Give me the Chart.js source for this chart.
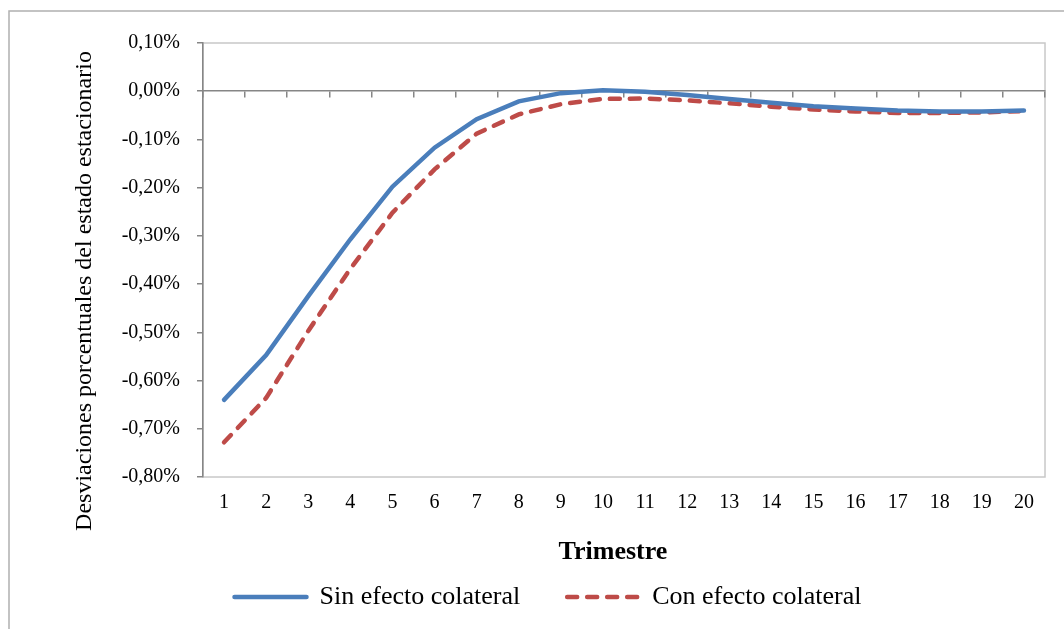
<!DOCTYPE html>
<html lang="es">
<head>
<meta charset="UTF-8">
<title>Trimestre</title>
<script src="https://cdn.jsdelivr.net/npm/chart.js"></script>
<style>
    body { margin: 0; background: #ffffff; }
    #wrap { position: relative; width: 1064px; height: 629px; }
</style>
</head>
<body>
<div id="wrap">
    <canvas id="myChart" width="1064" height="629"></canvas>
</div>
<script>
    // datos (desviaciones en %)
    const trimestres = ['1','2','3','4','5','6','7','8','9','10','11','12','13','14','15','16','17','18','19','20'];
    const sinEfecto = [-0.64, -0.547, -0.425, -0.307, -0.198, -0.117, -0.058, -0.021, -0.004, 0.002,
                       -0.001, -0.008, -0.016, -0.024, -0.031, -0.036, -0.040, -0.042, -0.042, -0.040];
    const conEfecto = [-0.728, -0.636, -0.497, -0.368, -0.252, -0.162, -0.088, -0.048, -0.027, -0.016,
                       -0.015, -0.019, -0.025, -0.032, -0.038, -0.042, -0.045, -0.045, -0.044, -0.041];
    const yTicks = { min: -0.8, max: 0.1, step: 0.1 };
    const yTitle = 'Desviaciones porcentuales del estado estacionario';
    const xTitle = 'Trimestre';

    Chart.defaults.font.family = '"Liberation Serif", "Times New Roman", serif';
    Chart.defaults.color = '#000000';

    const axisGray = '#868686';

    // marco exterior, borde del area de trazado y titulos de los ejes
    const framePlugin = {
        id: 'frame',
        beforeDraw(chart) {
            const c = chart.ctx, a = chart.chartArea;
            c.save();
            c.strokeStyle = '#b0b0b0';
            c.lineWidth = 1.5;
            c.strokeRect(9, 11, 1200, 800);
            c.strokeStyle = '#c8c8c8';
            c.lineWidth = 1.5;
            c.strokeRect(a.left, a.top, a.right - a.left, a.bottom - a.top);
            c.restore();
        },
        afterDraw(chart) {
            const c = chart.ctx;
            c.save();
            c.fillStyle = '#000';
            c.textAlign = 'center';
            c.textBaseline = 'middle';
            c.font = 'bold 26px "Liberation Serif"';
            c.fillText(xTitle, 613, 552);
            c.translate(85, 291);
            c.rotate(-Math.PI / 2);
            c.font = '24px "Liberation Serif"';
            c.fillText(yTitle, 0, 0);
            c.restore();
        }
    };

    const ctx = document.getElementById('myChart').getContext('2d');
    const myChart = new Chart(ctx, {
        type: 'line',
        data: {
            labels: trimestres,
            datasets: [{
                label: 'Sin efecto colateral',
                data: sinEfecto,
                borderColor: '#4a7ebb',
                backgroundColor: '#4a7ebb',
                borderWidth: 4.5,
                borderCapStyle: 'round',
                pointRadius: 0,
                tension: 0
            }, {
                label: 'Con efecto colateral',
                data: conEfecto,
                borderColor: '#be4b48',
                backgroundColor: '#be4b48',
                borderWidth: 4.5,
                borderDash: [10, 10],
                borderCapStyle: 'round',
                pointRadius: 0,
                tension: 0
            }]
        },
        options: {
            responsive: false,
            animation: false,
            layout: { padding: { left: 51, right: 19, top: 43, bottom: 9 } },
            scales: {
                x: {
                    type: 'category',
                    offset: true,
                    position: 'bottom',
                    border: { display: false },
                    grid: { display: false },
                    ticks: { padding: 6, font: { size: 20 }, maxRotation: 0 },
                    afterFit(scale) { scale.height = 60; }
                },
                x2: {
                    type: 'category',
                    offset: true,
                    position: { y: 0 },
                    border: { display: true, color: axisGray, width: 1.5 },
                    grid: { offset: true, drawOnChartArea: false, drawTicks: true, tickLength: 6, color: axisGray, lineWidth: 1.5 },
                    ticks: { display: false }
                },
                y: {
                    min: yTicks.min,
                    max: yTicks.max,
                    border: { display: true, color: axisGray, width: 1.5 },
                    grid: { drawOnChartArea: false, drawTicks: true, tickLength: 6, color: axisGray, lineWidth: 1.5 },
                    ticks: {
                        stepSize: yTicks.step,
                        padding: 17,
                        font: { size: 20 },
                        callback: function(v) {
                            const n = Math.abs(v) < 1e-9 ? 0 : v;
                            return n.toFixed(2).replace('.', ',') + '%';
                        }
                    },
                    afterFit(scale) { scale.width = 152; }
                }
            },
            plugins: {
                legend: {
                    position: 'bottom',
                    labels: {
                        usePointStyle: true,
                        pointStyle: 'line',
                        pointStyleWidth: 72,
                        padding: 47,
                        font: { size: 26 },
                        color: '#000',
                        generateLabels(chart) {
                            const items = Chart.defaults.plugins.legend.labels.generateLabels(chart);
                            items.forEach(it => {
                                const ds = chart.data.datasets[it.datasetIndex];
                                it.lineDash = ds.borderDash || [];
                                it.lineWidth = ds.borderWidth;
                                it.lineCap = 'round';
                                it.strokeStyle = ds.borderColor;
                                it.pointStyle = 'line';
                            });
                            return items;
                        }
                    }
                },
                tooltip: { enabled: false }
            }
        },
        plugins: [framePlugin]
    });
</script>
</body>
</html>
